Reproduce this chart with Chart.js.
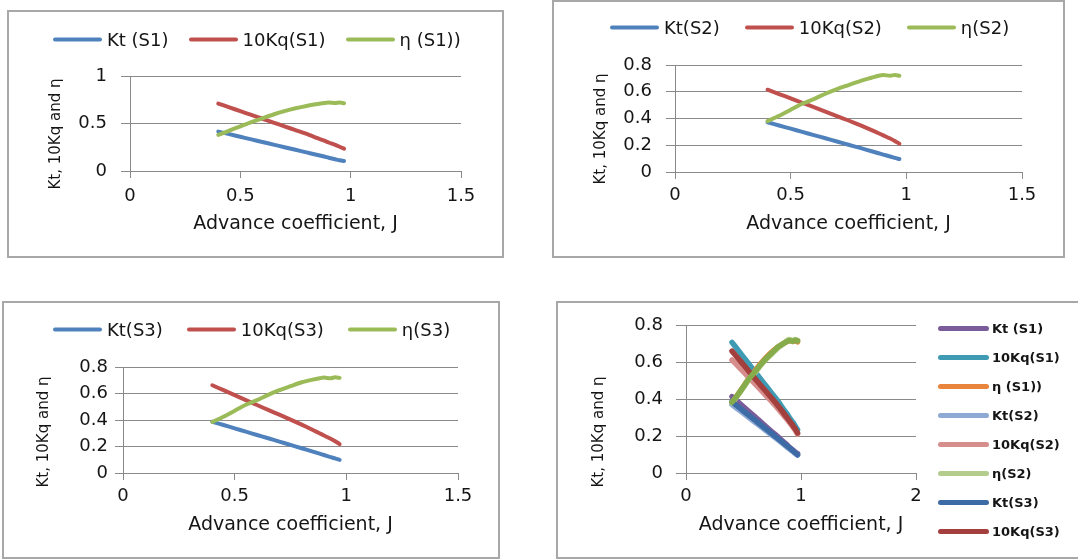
<!DOCTYPE html>
<html>
<head>
<meta charset="utf-8">
<script src="https://cdn.jsdelivr.net/npm/chart.js@4.4.1/dist/chart.umd.min.js"></script>
<style>
  body { margin: 0; width: 1078px; height: 559px; overflow: hidden; background: #fff; position: relative; font-family: "DejaVu Sans", sans-serif; color: #151515; }
  .box { position: absolute; border: 2px solid #a8a8a8; box-sizing: border-box; }
  canvas { position: absolute; }
  .lg { position: absolute; display: flex; align-items: center; transform: translateY(-50%); font-size: 18px; white-space: nowrap; }
  .lg .it { display: flex; align-items: center; }
  .lg i { display: inline-block; width: 49px; height: 4px; border-radius: 2px; margin-right: 5px; }
  .lg.col { flex-direction: column; align-items: flex-start; transform: none; font-size: 13px; font-weight: bold; }
  .lg.col .it { height: 29px; margin: 0; }
  .lg.col i { width: 51px; height: 5px; border-radius: 3px; margin-right: 3px; }
  .yt { position: absolute; font-size: 15px; white-space: nowrap; transform: translate(-50%, -50%) rotate(-90deg); }
</style>
</head>
<body>
<div class="box" style="left:7px;top:10px;width:497px;height:248px"></div>
<div class="box" style="left:552px;top:0px;width:513px;height:258px"></div>
<div class="box" style="left:2px;top:301px;width:498px;height:258px"></div>
<div class="box" style="left:556px;top:301px;width:530px;height:258px"></div>

<canvas id="c1" width="495" height="246" style="left:8px;top:11px"></canvas>
<canvas id="c2" width="511" height="256" style="left:553px;top:1px"></canvas>
<canvas id="c3" width="496" height="256" style="left:3px;top:302px"></canvas>
<canvas id="c4" width="521" height="256" style="left:557px;top:302px"></canvas>

<div class="lg" id="lg1" style="left:53px;top:39px"></div>
<div class="lg" id="lg2" style="left:610px;top:27px"></div>
<div class="lg" id="lg3" style="left:53px;top:329px"></div>
<div class="lg col" id="lg4" style="left:938px;top:314px"></div>

<div class="yt" style="left:55px;top:134px">Kt, 10Kq and η</div>
<div class="yt" style="left:600px;top:129px">Kt, 10Kq and η</div>
<div class="yt" style="left:43px;top:432px">Kt, 10Kq and η</div>
<div class="yt" style="left:598px;top:432px">Kt, 10Kq and η</div>

<script>
// advance coefficient J
const J = [0.40, 0.45, 0.50, 0.55, 0.60, 0.65, 0.70, 0.75, 0.80, 0.85, 0.88, 0.90, 0.93, 0.95, 0.97];

const ktS1  = [0.415, 0.388, 0.360, 0.333, 0.305, 0.278, 0.250, 0.223, 0.196, 0.168, 0.152, 0.140, 0.124, 0.113, 0.105];
const kqS1  = [0.710, 0.670, 0.630, 0.590, 0.550, 0.510, 0.470, 0.430, 0.390, 0.345, 0.320, 0.300, 0.275, 0.255, 0.235];
const etaS1 = [0.380, 0.425, 0.470, 0.515, 0.555, 0.595, 0.630, 0.660, 0.685, 0.705, 0.715, 0.720, 0.715, 0.720, 0.713];

const ktS2  = [0.372, 0.348, 0.324, 0.300, 0.276, 0.252, 0.228, 0.204, 0.180, 0.155, 0.140, 0.130, 0.116, 0.106, 0.097];
const kqS2  = [0.615, 0.583, 0.550, 0.517, 0.485, 0.452, 0.418, 0.385, 0.350, 0.313, 0.290, 0.274, 0.250, 0.232, 0.212];
const etaS2 = [0.380, 0.420, 0.465, 0.510, 0.545, 0.585, 0.620, 0.650, 0.680, 0.705, 0.720, 0.725, 0.720, 0.725, 0.720];

const ktS3  = [0.387, 0.362, 0.337, 0.312, 0.287, 0.262, 0.237, 0.212, 0.187, 0.161, 0.146, 0.136, 0.120, 0.110, 0.099];
const kqS3  = [0.662, 0.625, 0.588, 0.550, 0.513, 0.476, 0.440, 0.403, 0.365, 0.325, 0.300, 0.283, 0.258, 0.240, 0.218];
const etaS3 = [0.385, 0.425, 0.470, 0.515, 0.550, 0.590, 0.625, 0.655, 0.685, 0.705, 0.715, 0.720, 0.715, 0.722, 0.718];

const names1 = ['Kt (S1)', '10Kq(S1)', 'η (S1))'];
const names2 = ['Kt(S2)', '10Kq(S2)', 'η(S2)'];
const names3 = ['Kt(S3)', '10Kq(S3)', 'η(S3)'];

const xTicks = [0, 0.5, 1, 1.5];
const xTicksAll = [0, 1, 2];
const yTicks1 = [0, 0.5, 1];
const yTicks = [0, 0.2, 0.4, 0.6, 0.8];

const INK = '#151515';
const GRID = '#8a8a8a';
const mainColors = ['#4F81BD', '#C0504D', '#9BBB59'];
const allColors = ['#7B5C9B', '#3F9BB3', '#E8843C', '#8EAAD4', '#D58E8C', '#B4CC8C', '#3D6BA5', '#A33F3C', '#86AC4B'];

Chart.defaults.font.family = '"DejaVu Sans", sans-serif';
Chart.defaults.font.size = 18;
Chart.defaults.color = INK;

const pts = ys => J.map((x, i) => ({ x: x, y: ys[i] }));

function makeChart(id, sets, o) {
  const n = sets.length;
  return new Chart(document.getElementById(id), {
    type: 'line',
    data: {
      datasets: sets.map((s, i) => ({
        label: s.label,
        data: pts(s.data),
        borderColor: s.color,
        borderWidth: o.lw,
        order: n - i   // later series on top, like the original
      }))
    },
    options: {
      responsive: false,
      animation: false,
      layout: { padding: { top: o.top, right: o.right, left: 0, bottom: 0 } },
      elements: {
        point: { radius: 0 },
        line: { tension: 0.25, borderCapStyle: 'round', borderJoinStyle: 'round' }
      },
      plugins: { legend: { display: false }, tooltip: { enabled: false } },
      scales: {
        x: {
          type: 'linear',
          min: 0,
          max: o.xTicks[o.xTicks.length - 1],
          afterBuildTicks: s => { s.ticks = o.xTicks.map(v => ({ value: v })); },
          afterFit: s => { s.height = o.xh; },
          grid: { drawOnChartArea: false, tickLength: 7, color: GRID },
          border: { color: GRID },
          ticks: { padding: o.xpad, color: INK, callback: v => String(v) },
          title: { display: true, text: 'Advance coefficient, J', color: INK, font: { size: 19 }, padding: { top: 0, bottom: 22 } }
        },
        y: {
          min: 0,
          max: o.yTicks[o.yTicks.length - 1],
          afterBuildTicks: s => { s.ticks = o.yTicks.map(v => ({ value: v })); },
          afterFit: s => { s.width = o.yw; },
          grid: { tickLength: o.tl, color: GRID },
          border: { color: GRID },
          ticks: { padding: o.ypad, color: INK, callback: v => String(v) }
        }
      }
    }
  });
}

function htmlLegend(chart, id, count, gap) {
  const el = document.getElementById(id);
  chart.data.datasets.slice(0, count).forEach((ds, i) => {
    const item = document.createElement('span');
    item.className = 'it';
    if (gap && i < count - 1) item.style.marginRight = gap + 'px';
    const line = document.createElement('i');
    line.style.background = ds.borderColor;
    item.appendChild(line);
    item.appendChild(document.createTextNode(ds.label));
    el.appendChild(item);
  });
}

const s1 = [ktS1, kqS1, etaS1].map((d, i) => ({ label: names1[i], data: d, color: mainColors[i] }));
const s2 = [ktS2, kqS2, etaS2].map((d, i) => ({ label: names2[i], data: d, color: mainColors[i] }));
const s3 = [ktS3, kqS3, etaS3].map((d, i) => ({ label: names3[i], data: d, color: mainColors[i] }));

const allNames = names1.concat(names2, names3);
const allData = [ktS1, kqS1, etaS1, ktS2, kqS2, etaS2, ktS3, kqS3, etaS3];
const s4 = allData.map((d, i) => ({ label: allNames[i], data: d, color: allColors[i] }));

const c1 = makeChart('c1', s1, { lw: 4, top: 65, right: 42, xh: 86, yw: 122, tl: 9, ypad: 14, xpad: 8, xTicks: xTicks, yTicks: yTicks1 });
const c2 = makeChart('c2', s2, { lw: 4, top: 64, right: 42, xh: 85, yw: 122, tl: 9, ypad: 14, xpad: 6, xTicks: xTicks, yTicks: yTicks });
const c3 = makeChart('c3', s3, { lw: 4, top: 65, right: 41, xh: 85, yw: 120, tl: 8, ypad: 7, xpad: 6, xTicks: xTicks, yTicks: yTicks });
const c4 = makeChart('c4', s4, { lw: 5.5, top: 16, right: 162, xh: 85, yw: 129, tl: 10, ypad: 13, xpad: 6, xTicks: xTicksAll, yTicks: yTicks });

htmlLegend(c1, 'lg1', 3, 20);
htmlLegend(c2, 'lg2', 3, 25);
htmlLegend(c3, 'lg3', 3, 24);
htmlLegend(c4, 'lg4', 8);
</script>
</body>
</html>
